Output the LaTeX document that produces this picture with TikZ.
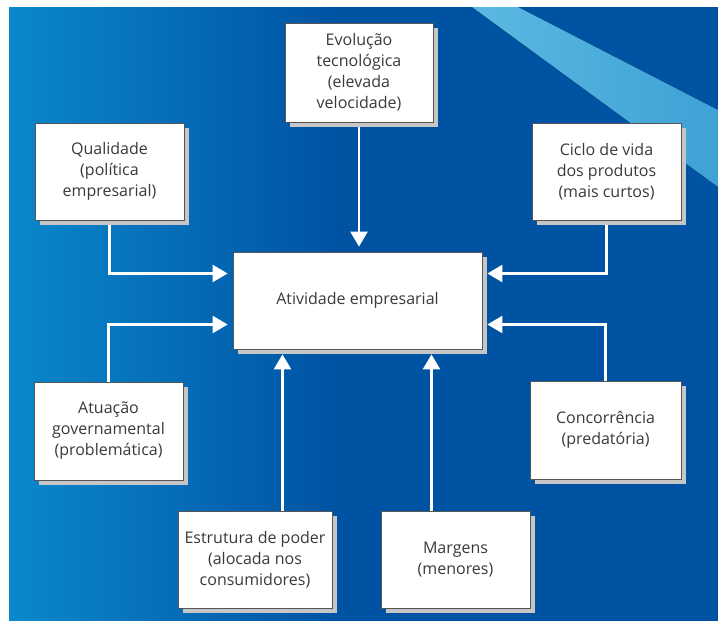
\documentclass[tikz,border=0pt]{standalone}
\usepackage{fontspec}
\setmainfont{Open Sans}
\usetikzlibrary{arrows.meta,shadows,backgrounds}
\definecolor{BgLight}{HTML}{0A88CC}
\definecolor{BgDark}{HTML}{0052A3}
\definecolor{BandLight}{HTML}{5CB8E2}
\definecolor{BandDark}{HTML}{3DA2D5}
\definecolor{TextGray}{HTML}{3A3A3A}
\definecolor{LineGray}{HTML}{555555}
\definecolor{ShadowGray}{HTML}{C6C6C6}

\begin{document}
\begin{tikzpicture}[x=1pt,y=-1pt,
    box/.style={draw=LineGray,line width=.8pt,fill=white,text=TextGray,align=center,inner sep=0pt,
      font=\fontsize{16}{21}\selectfont,
      drop shadow={shadow xshift=5pt,shadow yshift=-5pt,fill=ShadowGray,opacity=1}},
    arr/.style={draw=white,line width=2.6pt,-{Triangle[length=15pt,width=17pt]},shorten >=5pt}]
      \useasboundingbox(0,0)rectangle(718,621);
      \node[box,minimum width=148pt,minimum height=99pt](evol)at(359,72.5){Evolução\\tecnológica\\(elevada\\velocidade)};
      \node[box,minimum width=149pt,minimum height=97pt](qual)at(109.5,171.5){Qualidade\\(política\\empresarial)};
      \node[box,minimum width=149pt,minimum height=97pt](ciclo)at(606.5,171.5){Ciclo de vida\\dos produtos\\(mais curtos)};
      \node[box,minimum width=249pt,minimum height=97pt](ativ)at(357.5,300.5){Atividade empresarial};
      \node[box,minimum width=149pt,minimum height=98pt](atua)at(108.5,431){Atuação\\governamental\\(problemática)};
      \node[box,minimum width=151pt,minimum height=98pt](conc)at(605.5,430){Concorrência\\(predatória)};
      \node[box,minimum width=154pt,minimum height=97pt](estr)at(255,559.5){Estrutura de poder\\(alocada nos\\consumidores)};
      \node[box,minimum width=149pt,minimum height=97pt](marg)at(455.5,559.5){Margens\\(menores)};
      \coordinate(estrin)at([xshift=-75pt]ativ.south);
      \coordinate(margin)at([xshift=74pt]ativ.south);
      \begin{scope}[on background layer]
        \fill[left color=BgLight,right color=BgDark](9,7)rectangle(340,621);
        \fill[BgDark](339,7)rectangle(718,621);
        \fill[left color=BandLight,right color=BandDark](472,7)--(518,7)--(718,110)--(718,187)--cycle;
        % arrows into the centre box
        \draw[arr](evol.south)--(evol.south|-ativ.north);
        \draw[arr](qual.south)|-([yshift=27pt]ativ.west);
        \draw[arr](ciclo.south)|-([yshift=27pt]ativ.east);
        \draw[arr](atua.north)|-([yshift=-24pt]ativ.west);
        \draw[arr](conc.north)|-([yshift=-24pt]ativ.east);
        \draw[arr](estrin|-estr.north)--(estrin);
        \draw[arr](margin|-marg.north)--(margin);
      \end{scope}
    \end{tikzpicture}
\end{document}
